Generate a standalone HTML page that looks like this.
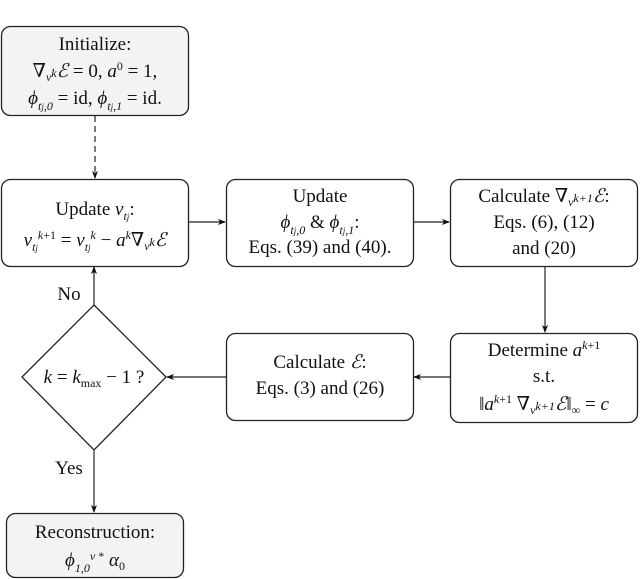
<!DOCTYPE html>
<html><head><meta charset="utf-8"><style>
body{margin:0;background:#fff}
svg{display:block}
text{font-family:"Liberation Serif","DejaVu Serif",serif;font-size:19px;fill:#111;text-anchor:middle}
.i{font-style:italic}
.s{font-size:12px}
</style></head><body>
<svg width="640" height="579" viewBox="0 0 640 579" xmlns="http://www.w3.org/2000/svg">
<defs><marker id="a" markerWidth="8" markerHeight="6" refX="7" refY="3" orient="auto" markerUnits="userSpaceOnUse"><path d="M0,0 L8,3 L0,6 L2,3z" fill="#111"/></marker></defs>
<g stroke="#222" stroke-width="1.3">
<rect x="1.5" y="26.5" width="187" height="89" rx="9" fill="#f3f3f3"/>
<rect x="1.5" y="179.5" width="187" height="87" rx="9" fill="#fff"/>
<rect x="226.5" y="179.5" width="187" height="87" rx="9" fill="#fff"/>
<rect x="450.5" y="179.5" width="187" height="87" rx="9" fill="#fff"/>
<rect x="450.5" y="333.5" width="187" height="89" rx="9" fill="#fff"/>
<rect x="226.5" y="333.5" width="187" height="87" rx="9" fill="#fff"/>
<path d="M94,305 L166,377 L94,450 L22,377Z" fill="#fff"/>
<rect x="6.5" y="513.5" width="177" height="64" rx="9" fill="#f3f3f3"/>
</g>
<g stroke="#222" stroke-width="1.2" fill="none">
<line x1="95" y1="116" x2="95" y2="178" stroke-dasharray="6,4" marker-end="url(#a)"/>
<line x1="189" y1="222" x2="225" y2="222" marker-end="url(#a)"/>
<line x1="414" y1="222" x2="449" y2="222" marker-end="url(#a)"/>
<line x1="545" y1="267" x2="545" y2="332" marker-end="url(#a)"/>
<line x1="450" y1="377" x2="414" y2="377" marker-end="url(#a)"/>
<line x1="226" y1="377" x2="167" y2="377" marker-end="url(#a)"/>
<line x1="94" y1="305" x2="94" y2="267" marker-end="url(#a)"/>
<line x1="94" y1="450" x2="94" y2="512" marker-end="url(#a)"/>
</g>
<text x="95" y="50">Initialize:</text>
<text x="95" y="77">∇<tspan class="i s" dy="4">v<tspan dy="-4">k</tspan></tspan><tspan class="i" dy="0">ℰ</tspan> = 0, <tspan class="i">a</tspan><tspan class="s" dy="-7">0</tspan><tspan dy="7"> = 1,</tspan></text>
<text x="95" y="104"><tspan class="i">ϕ</tspan><tspan class="i s" dy="6">t<tspan style="font-size:9px">j</tspan>,0</tspan><tspan dy="-6"> = id, </tspan><tspan class="i">ϕ</tspan><tspan class="i s" dy="6">t<tspan style="font-size:9px">j</tspan>,1</tspan><tspan dy="-6"> = id.</tspan></text>
<text x="95" y="215">Update <tspan class="i">v</tspan><tspan class="i s" dy="5">t<tspan style="font-size:9px">j</tspan></tspan><tspan dy="-5">:</tspan></text>
<text x="95" y="246"><tspan class="i">v</tspan><tspan class="i s" dy="5">t<tspan style="font-size:9px">j</tspan></tspan><tspan class="i s" dy="-12">k</tspan><tspan class="s" dy="0">+1</tspan><tspan dy="7"> = </tspan><tspan class="i">v</tspan><tspan class="i s" dy="5">t<tspan style="font-size:9px">j</tspan></tspan><tspan class="i s" dy="-12">k</tspan><tspan dy="7"> − </tspan><tspan class="i">a</tspan><tspan class="i s" dy="-7">k</tspan><tspan dy="7">∇</tspan><tspan class="i s" dy="4">v<tspan dy="-4">k</tspan></tspan><tspan class="i">ℰ</tspan></text>
<text x="320" y="202">Update</text>
<text x="320" y="228"><tspan class="i">ϕ</tspan><tspan class="i s" dy="6">t<tspan style="font-size:9px">j</tspan>,0</tspan><tspan dy="-6"> &amp; </tspan><tspan class="i">ϕ</tspan><tspan class="i s" dy="6">t<tspan style="font-size:9px">j</tspan>,1</tspan><tspan dy="-6">:</tspan></text>
<text x="320" y="253">Eqs. (39) and (40).</text>
<text x="544" y="202">Calculate ∇<tspan class="i s" dy="4">v<tspan dy="-4">k+1</tspan></tspan><tspan class="i">ℰ</tspan>:</text>
<text x="544" y="228">Eqs. (6), (12)</text>
<text x="544" y="254">and (20)</text>
<text x="544" y="356">Determine <tspan class="i">a</tspan><tspan class="i s" dy="-7">k</tspan><tspan class="s">+1</tspan></text>
<text x="544" y="382" dy="0">s.t.</text>
<text x="544" y="410">‖<tspan class="i">a</tspan><tspan class="i s" dy="-7">k</tspan><tspan class="s">+1</tspan><tspan dy="7"> ∇</tspan><tspan class="i s" dy="4">v<tspan dy="-4">k+1</tspan></tspan><tspan class="i">ℰ</tspan>‖<tspan class="s" dy="4">∞</tspan><tspan dy="-4"> = </tspan><tspan class="i">c</tspan></text>
<text x="320" y="368">Calculate <tspan class="i">ℰ</tspan>:</text>
<text x="320" y="394">Eqs. (3) and (26)</text>
<text x="94" y="383"><tspan class="i">k</tspan> = <tspan class="i">k</tspan><tspan class="s" dy="4">max</tspan><tspan dy="-4"> − 1 ?</tspan></text>
<text x="69" y="300">No</text>
<text x="69" y="474">Yes</text>
<text x="95" y="538">Reconstruction:</text>
<text x="95" y="566"><tspan class="i">ϕ</tspan><tspan class="i s" dy="6">1,0</tspan><tspan class="i s" dy="-12">v</tspan><tspan class="s"> *</tspan><tspan dy="6"> </tspan><tspan class="i">α</tspan><tspan class="s" dy="4">0</tspan></text>
</svg>
</body></html>
